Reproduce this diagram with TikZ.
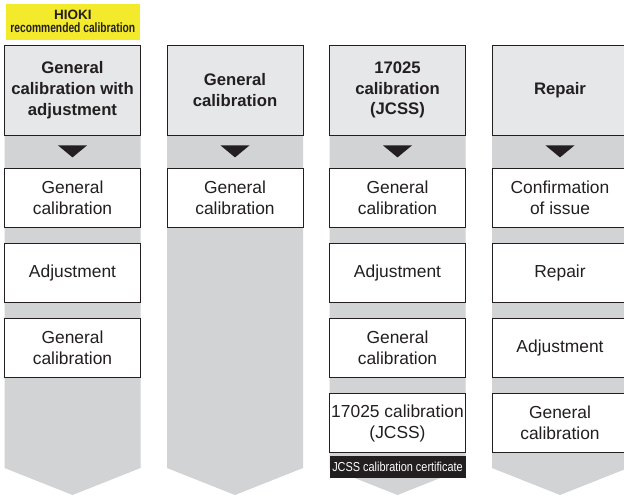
\documentclass[tikz,border=0pt]{standalone}
\usepackage{fontspec}
\setmainfont{Liberation Sans}
\usetikzlibrary{calc}

\definecolor{ink}{HTML}{231F20}
\definecolor{band}{HTML}{D1D3D4}
\definecolor{headfill}{HTML}{E6E7E8}
\definecolor{tagyellow}{HTML}{F4EA2C}

\tikzset{
  headbox/.style={draw=ink, line width=0.8pt, fill=headfill, text=ink,
    minimum width=136pt, minimum height=90pt, inner sep=0pt, align=center,
    font=\bfseries\fontsize{16.7}{20.7}\selectfont},
  stepbox/.style={draw=ink, line width=0.8pt, fill=white, text=ink,
    minimum width=136pt, minimum height=59pt, inner sep=0pt, align=center,
    font=\fontsize{17.4}{21}\selectfont},
  tagbox/.style={fill=tagyellow, text=ink, minimum width=134.5pt,
    minimum height=36pt, inner sep=0pt, align=center,
    font=\bfseries\fontsize{13.5}{13.3}\selectfont},
  certbar/.style={fill=ink, text=white, minimum width=136pt,
    minimum height=22pt, inner sep=0pt, font=\fontsize{13}{13}\selectfont},
  bandfill/.style={fill=band},
  pointer/.style={fill=ink}
}

% grey column ending in a downward chevron; #1 = left edge
\newcommand\columnband[1]{%
  \fill[bandfill] (#1,45) -- (#1+136,45) -- (#1+136,468)
    -- (#1+68,495) -- (#1,468) -- cycle;}
% small black triangle under a header node
\newcommand\headpointer[1]{%
  \fill[pointer] ($(#1.south)+(-14.5,10)$) -- ($(#1.south)+(14.5,10)$)
    -- ($(#1.south)+(0,22)$) -- cycle;}

\begin{document}
\begin{tikzpicture}[x=1pt, y=-1pt]
  \useasboundingbox (0,0) rectangle (624,496);
  \clip (0,0) rectangle (624,496);

  % column backgrounds
  \columnband{4.5}
  \columnband{167}
  \columnband{329.5}
  \columnband{492}

  % recommendation tag
  \node[tagbox] (tag) at (72.8,21.5)
    {HIOKI\\
     \scalebox{0.76}[1]{\fontsize{13.5}{13.3}\selectfont recommended calibration}};

  % headers
  \node[headbox] (h1) at (72.5,90)  {General\\calibration with\\adjustment};
  \node[headbox] (h2) at (235,90)   {General\\calibration};
  \node[headbox] (h3) at (397.5,90) {17025\\calibration\\(JCSS)};
  \node[headbox] (h4) at (560,90)   {Repair};

  \headpointer{h1}
  \headpointer{h2}
  \headpointer{h3}
  \headpointer{h4}

  % column 1
  \node[stepbox] (a1) at (72.5,198) {General\\calibration};
  \node[stepbox] (a2) at (72.5,273) {Adjustment};
  \node[stepbox] (a3) at (72.5,348) {General\\calibration};

  % column 2
  \node[stepbox] (b1) at (235,198) {General\\calibration};

  % column 3
  \node[stepbox] (c1) at (397.5,198) {General\\calibration};
  \node[stepbox] (c2) at (397.5,273) {Adjustment};
  \node[stepbox] (c3) at (397.5,348) {General\\calibration};
  \node[stepbox] (c4) at (397.5,423) {17025 calibration\\(JCSS)};
  \node[certbar] (cert) at (397.5,467)
    {\scalebox{0.84}[1]{JCSS calibration certificate}};

  % column 4
  \node[stepbox] (d1) at (560,198) {Confirmation\\of issue};
  \node[stepbox] (d2) at (560,273) {Repair};
  \node[stepbox] (d3) at (560,348) {Adjustment};
  \node[stepbox] (d4) at (560,423) {General\\calibration};
\end{tikzpicture}
\end{document}
